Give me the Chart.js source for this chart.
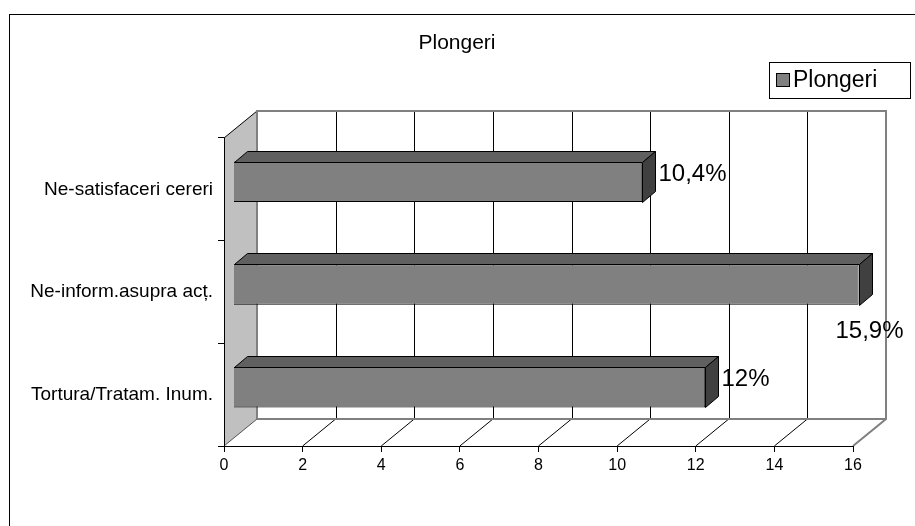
<!DOCTYPE html>
<html>
<head>
<meta charset="utf-8">
<script src="https://cdn.jsdelivr.net/npm/chart.js@4.4.0/dist/chart.umd.min.js"></script>
<style>
  html, body { margin: 0; padding: 0; background: #fff; }
  canvas { display: block; }
</style>
</head>
<body>
<canvas id="grafic" width="915" height="526"></canvas>
<script>
const categorii = ['Ne-satisfaceri cereri', 'Ne-inform.asupra acț.', 'Tortura/Tratam. Inum.'];
const valori = [10.4, 15.9, 12];
const numeSerie = 'Plongeri';
const titlu = 'Plongeri';

const FONT = '"Liberation Sans", Arial, sans-serif';
const DX = 33, DY = 27;        // adancimea peretilor
const BX = 9.5, BY = 7.5;      // pozitia barelor in adancime
const BD = 13, BDY = 11;       // grosimea barelor

function eticheta(v) {
  return String(v).replace('.', ',') + '%';
}

// pereti, podea, titlu, legenda
const fundal3d = {
  id: 'fundal3d',
  beforeDraw(chart) {
    const c = chart.ctx;
    const a = chart.chartArea;
    const x = chart.scales.x;
    c.save();
    c.fillStyle = '#fff';
    c.fillRect(0, 0, chart.width, chart.height);
    c.strokeStyle = '#000';
    c.lineWidth = 1;
    c.strokeRect(9.5, 14.5, 1200, 1200);

    // perete spate
    c.fillStyle = '#fff';
    c.fillRect(a.left + DX, a.top - DY, a.right - a.left, a.bottom - a.top);
    c.strokeStyle = '#000';
    c.lineWidth = 1;
    x.ticks.forEach(t => {
      if (t.value === x.min || t.value === x.max) return;
      const px = Math.round(x.getPixelForValue(t.value) + DX) + 0.5;
      c.beginPath();
      c.moveTo(px, a.top - DY);
      c.lineTo(px, a.bottom - DY);
      c.stroke();
    });

    // podea
    c.beginPath();
    c.moveTo(a.left, a.bottom);
    c.lineTo(a.right, a.bottom);
    c.lineTo(a.right + DX, a.bottom - DY);
    c.lineTo(a.left + DX, a.bottom - DY);
    c.closePath();
    c.fillStyle = '#fff';
    c.fill();
    x.ticks.forEach(t => {
      if (t.value === x.min || t.value === x.max) return;
      const px = x.getPixelForValue(t.value);
      c.beginPath();
      c.moveTo(px, a.bottom);
      c.lineTo(px + DX, a.bottom - DY);
      c.stroke();
    });

    // perete lateral
    c.beginPath();
    c.moveTo(a.left, a.top);
    c.lineTo(a.left + DX, a.top - DY);
    c.lineTo(a.left + DX, a.bottom - DY);
    c.lineTo(a.left, a.bottom);
    c.closePath();
    c.fillStyle = '#c0c0c0';
    c.fill();
    c.strokeStyle = '#000';
    c.beginPath();
    c.moveTo(a.left, a.top);
    c.lineTo(a.left + DX, a.top - DY);
    c.stroke();
    c.strokeStyle = '#555';
    c.beginPath();
    c.moveTo(a.left, a.bottom);
    c.lineTo(a.left + DX, a.bottom - DY);
    c.stroke();

    // margini gri
    c.strokeStyle = '#808080';
    c.lineWidth = 2;
    c.beginPath();
    c.moveTo(a.left + DX, a.bottom - DY);
    c.lineTo(a.left + DX, a.top - DY);
    c.lineTo(a.right + DX, a.top - DY);
    c.lineTo(a.right + DX, a.bottom - DY);
    c.lineTo(a.right, a.bottom);
    c.moveTo(a.left + DX, a.bottom - DY);
    c.lineTo(a.right + DX, a.bottom - DY);
    c.stroke();

    // titlu
    c.fillStyle = '#000';
    c.font = '21px ' + FONT;
    c.textAlign = 'center';
    c.textBaseline = 'middle';
    c.fillText(titlu, 457, 43);

    // legenda
    c.lineWidth = 1;
    c.strokeStyle = '#000';
    c.fillStyle = '#fff';
    c.fillRect(769.5, 62.5, 141, 36);
    c.strokeRect(769.5, 62.5, 141, 36);
    c.fillStyle = '#808080';
    c.fillRect(776.5, 73.5, 13, 13);
    c.strokeRect(776.5, 73.5, 13, 13);
    c.fillStyle = '#000';
    c.textAlign = 'left';
    c.font = '23px ' + FONT;
    c.fillText(numeSerie, 793, 81);
    c.restore();
  },
  beforeDatasetsDraw(chart) {
    chart.ctx.save();
    chart.ctx.translate(BX, -BY);
  },
  afterDatasetsDraw(chart) {
    const c = chart.ctx;
    c.restore();
    const meta = chart.getDatasetMeta(0);
    c.save();
    c.lineWidth = 1;
    c.strokeStyle = '#000';
    meta.data.forEach((bar, i) => {
      const p = bar.getProps(['x', 'y', 'base', 'height'], true);
      const st = Math.round(p.base + BX) + 0.5;
      const dr = Math.round(p.x + BX) + 0.5;
      const sus = Math.round(p.y - p.height / 2 - BY) + 0.5;
      const jos = Math.round(p.y + p.height / 2 - BY) + 0.5;
      // fata de sus
      c.beginPath();
      c.moveTo(st, sus);
      c.lineTo(st + BD, sus - BDY);
      c.lineTo(dr + BD, sus - BDY);
      c.lineTo(dr, sus);
      c.closePath();
      c.fillStyle = '#606060';
      c.fill();
      c.stroke();
      // fata laterala
      c.beginPath();
      c.moveTo(dr, sus);
      c.lineTo(dr + BD, sus - BDY);
      c.lineTo(dr + BD, jos - BDY);
      c.lineTo(dr, jos);
      c.closePath();
      c.fillStyle = '#404040';
      c.fill();
      c.stroke();

      // eticheta
      const txt = eticheta(valori[i]);
      c.font = '24px ' + FONT;
      c.fillStyle = '#000';
      c.textBaseline = 'middle';
      const w = c.measureText(txt).width;
      let lx = dr + BD + 3;
      let ly = (sus + jos) / 2 - 8;
      if (lx + w > chart.width - 4) {
        c.textAlign = 'center';
        lx = dr + 10;
        ly = jos + 26;
      } else {
        c.textAlign = 'left';
      }
      c.fillText(txt, lx, ly);
    });
    c.restore();
  }
};

new Chart(document.getElementById('grafic'), {
  type: 'bar',
  data: {
    labels: categorii,
    datasets: [{
      label: numeSerie,
      data: valori,
      backgroundColor: '#808080',
      borderColor: '#000',
      borderWidth: 1,
      barPercentage: 0.395,
      categoryPercentage: 1
    }]
  },
  options: {
    indexAxis: 'y',
    responsive: false,
    animation: false,
    devicePixelRatio: 1,
    layout: { padding: { left: 0, right: 62, top: 138, bottom: 0 } },
    plugins: {
      legend: { display: false },
      title: { display: false },
      tooltip: { enabled: false }
    },
    scales: {
      x: {
        min: 0,
        max: 16,
        ticks: { stepSize: 2, color: '#000', font: { size: 16, family: FONT }, padding: 4 },
        grid: { drawOnChartArea: false, color: '#000', tickLength: 6 },
        border: { color: '#000', width: 1 },
        afterFit(s) { s.height = 80; }
      },
      y: {
        ticks: { color: '#000', font: { size: 19, family: FONT }, padding: 5 },
        grid: { drawOnChartArea: false, offset: true, color: '#000', tickLength: 6 },
        border: { color: '#000', width: 1 },
        afterFit(s) { s.width = 224; }
      }
    }
  },
  plugins: [fundal3d]
});
</script>
</body>
</html>
